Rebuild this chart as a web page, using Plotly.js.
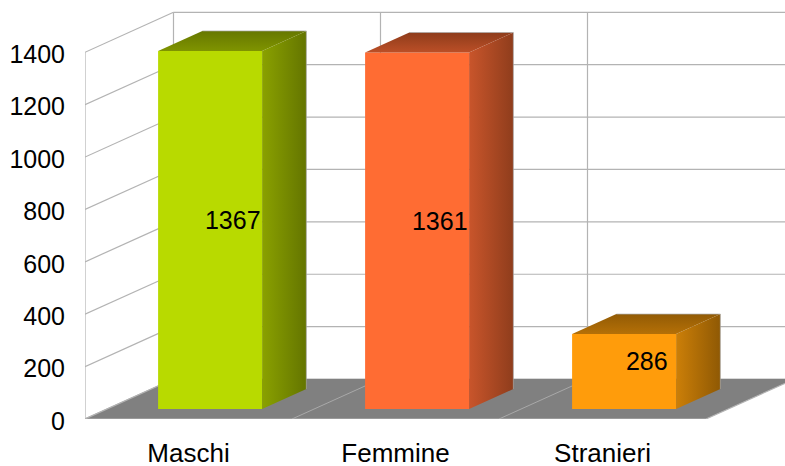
<!DOCTYPE html>
<html><head><meta charset="utf-8">
<script src="https://cdn.plot.ly/plotly-3.0.1.min.js"></script>
<style>html,body{margin:0;padding:0;background:#fff;overflow:hidden}</style></head>
<body><div id="chart" style="width:785px;height:466px"></div>
<script>
const categories = ["Maschi", "Femmine", "Stranieri"];
const values = [1367, 1361, 286];
const yTicks = [0, 200, 400, 600, 800, 1000, 1200, 1400];
const frontColors = ["#b8da00", "#ff6c33", "#ff9c0b"];
const sideLight = ["#8aa100", "#c9552b", "#cc7f08"];
const sideDark = ["#647500", "#8f3d1c", "#8f5904"];
const topLight = ["#7f9400", "#bc4f27", "#b57007"];
const topDark = ["#667700", "#8e3c1b", "#925b05"];

// Oblique projection, in axis units
const DX = 88.5 / 207, DY = 152.7;
const BAR_W = 104 / 207, BAR_X = 21.6 / 207;
const X0 = -0.5, XEND = 2.5, XMAX = 700 / 207 - 0.5, YMAX = 419 / (366.7 / 1400);
const LABEL_DROP = 10;
const GRID = "#b3b3b3";
const line = (x0, y0, x1, y1, color, width) => ({type: "line", xref: "x", yref: "y", layer: "below",
  x0, y0, x1, y1, line: {color: color || GRID, width: width || 1.2}});

const shapes = [];
yTicks.forEach(t => {
  shapes.push(line(X0, t, X0 + DX, t + DY));
  shapes.push(line(X0 + DX, t + DY, XMAX, t + DY));
});
shapes.push(line(X0, 0, X0, yTicks[yTicks.length - 1]));
categories.concat([""]).forEach((c, i) => shapes.push(line(X0 + DX + i, DY, X0 + DX + i, yTicks[yTicks.length - 1] + DY)));
shapes.push({type: "path", xref: "x", yref: "y", layer: "below", fillcolor: "#808080", line: {width: 0},
  path: `M ${X0} 0 L ${XEND} 0 L ${XEND + DX} ${DY} L ${X0 + DX} ${DY} Z`});
[1, 2].forEach(i => shapes.push(line(X0 + i, 0, X0 + i + DX, DY, GRID, 0.8)));
shapes.push(line(X0, 0, XEND, 0));
shapes.push(line(XEND, 0, XEND + DX, DY));
shapes.push(line(X0, 0, X0 + DX, DY));

const traces = [{
  type: "bar", x: categories.map((c, i) => i + BAR_X), y: values, base: DY / 4, width: BAR_W,
  marker: {color: frontColors, line: {width: 0}}, showlegend: false, hoverinfo: "skip"
}];
values.forEach((v, i) => {
  const l = i + BAR_X - BAR_W / 2, r = l + BAR_W, b = DY / 4, t = b + v, ox = DX / 2, oy = DY / 2;
  traces.push({type: "scatter", mode: "lines", fill: "toself", showlegend: false, hoverinfo: "skip",
    x: [r, r + ox, r + ox, r, r], y: [b, b + oy, t + oy, t, b], line: {width: 0},
    fillgradient: {type: "horizontal", colorscale: [[0, sideLight[i]], [1, sideDark[i]]]}});
  traces.push({type: "scatter", mode: "lines", fill: "toself", showlegend: false, hoverinfo: "skip",
    x: [l, l + ox, r + ox, r, l], y: [t, t + oy, t + oy, t, t], line: {width: 0},
    fillgradient: {type: "vertical", colorscale: [[0, topLight[i]], [1, topDark[i]]]}});
  traces.push({type: "scatter", mode: "lines", showlegend: false, hoverinfo: "skip",
    x: [l + ox, r + ox, r + ox], y: [t + oy, t + oy, b + oy],
    line: {color: "rgba(170,170,170,0.7)", width: 1}});
});
traces.push({type: "scatter", mode: "text", showlegend: false, hoverinfo: "skip",
  x: values.map((v, i) => i + DX / 2), y: values.map(v => v / 2 + DY / 2 - LABEL_DROP),
  text: values.map(String), textposition: "middle center",
  textfont: {family: "Liberation Sans", size: 25, color: "#000"}});

Plotly.newPlot("chart", traces, {
  width: 785, height: 466, paper_bgcolor: "#fff", plot_bgcolor: "#fff",
  margin: {l: 85, r: 0, t: 0, b: 47, pad: 0}, showlegend: false, shapes,
  font: {family: "Liberation Sans", size: 25, color: "#000"},
  xaxis: {type: "linear", range: [X0, XMAX], tickmode: "array", tickvals: [0, 1, 2], ticktext: categories,
    showgrid: false, zeroline: false, showline: false, ticks: "outside", ticklen: 11, tickcolor: "rgba(0,0,0,0)",
    tickfont: {family: "Liberation Sans", size: 26, color: "#000"}, fixedrange: true},
  yaxis: {range: [0, YMAX], tickmode: "array", tickvals: yTicks, ticktext: yTicks.map(String),
    showgrid: false, zeroline: false, showline: false, ticks: "outside", ticklen: 14, tickcolor: "rgba(0,0,0,0)",
    ticklabelshift: 2,
    tickfont: {family: "Liberation Sans", size: 25, color: "#000"}, fixedrange: true}
}, {displayModeBar: false, staticPlot: true});
</script></body></html>
